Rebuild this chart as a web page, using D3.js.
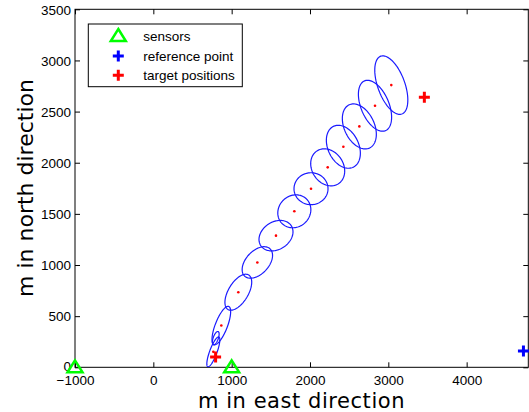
<!DOCTYPE html>
<html>
<head>
<meta charset="utf-8">
<script src="https://cdn.jsdelivr.net/npm/d3@7"></script>
<style>
  html, body { margin: 0; padding: 0; background: #fff; }
  svg { display: block; }
</style>
</head>
<body>
<svg id="chart" width="529" height="412"></svg>
<script>
// ---- data ----
const xTicks = [-1000, 0, 1000, 2000, 3000, 4000];
const yTicks = [0, 500, 1000, 1500, 2000, 2500, 3000, 3500];
const xDomain = [-1000, 4787];
const yDomain = [0, 3500];

const sensorE = [-1000, 1000];
const sensorN = [0, 0];
const refE = [4725];
const refN = [160];
const targetE = [795, 3460];
const targetN = [100, 2640];

const estE = [766, 868, 1085, 1328, 1566, 1800, 2013, 2226, 2426, 2630, 2830, 3038];
const estN = [151, 408, 734, 1025, 1287, 1525, 1746, 1955, 2156, 2355, 2557, 2759];

const ellE    = [797, 766, 868, 1085, 1328, 1566, 1800, 2013, 2226, 2426, 2630, 2830, 3038];
const ellN    = [285, 151, 408, 734, 1025, 1287, 1525, 1746, 1955, 2156, 2355, 2557, 2759];
const ellSigE = [43, 83, 119, 171, 194, 217, 211, 217, 217, 217, 217, 212, 211];
const ellSigN = [65, 146, 188, 176, 154, 149, 161, 156, 181, 210, 220, 249, 286];
const ellRho  = [0.6, 0.8, 0.72, 0.56, 0.45, 0.25, 0.1, 0, -0.2, -0.3, -0.35, -0.45, -0.51];

const legendLabels = ["sensors", "reference point", "target positions"];

// ---- layout ----
const svg = d3.select("#chart");
const L = 75, T = 9.3, R = 528.3, B = 367.3;
const x = d3.scaleLinear().domain(xDomain).range([L, R]);
const y = d3.scaleLinear().domain(yDomain).range([B, T]);
const tickFont = "'Liberation Sans', Arial, Helvetica, sans-serif";

svg.append("defs").append("clipPath").attr("id", "clip")
  .append("rect").attr("x", L).attr("y", T).attr("width", R - L).attr("height", B - T);

// axes (MATLAB style: ticks inward, box)
const fmt = d => d < 0 ? "\u2212" + Math.abs(d) : String(d);
const tickLen = 5;
const gx = svg.append("g").attr("transform", `translate(0,${B})`)
  .call(d3.axisBottom(x).tickValues(xTicks).tickSizeInner(-tickLen).tickSizeOuter(0).tickPadding(8).tickFormat(fmt));
const gxt = svg.append("g").attr("transform", `translate(0,${T})`)
  .call(d3.axisTop(x).tickValues(xTicks).tickSizeInner(-tickLen).tickSizeOuter(0).tickFormat(""));
const gy = svg.append("g").attr("transform", `translate(${L},0)`)
  .call(d3.axisLeft(y).tickValues(yTicks).tickSizeInner(-tickLen).tickSizeOuter(0).tickPadding(8).tickFormat(fmt));
const gyr = svg.append("g").attr("transform", `translate(${R},0)`)
  .call(d3.axisRight(y).tickValues(yTicks).tickSizeInner(-tickLen).tickSizeOuter(0).tickFormat(""));
[gx, gxt, gy, gyr].forEach(g => {
  g.select(".domain").remove();
  g.selectAll(".tick line").attr("stroke", "#000").attr("stroke-width", 1);
  g.selectAll("text").attr("fill", "#000").style("font-family", tickFont).style("font-size", "13.5px");
});
gx.selectAll("text").attr("dy", "0.71em").attr("y", 8.3);
gy.selectAll("text").attr("x", -4).attr("dy", "0.35em");
gy.selectAll(".tick").filter(d => d === 0).select("text").attr("y", -2);

svg.append("rect").attr("x", L).attr("y", T).attr("width", R - L).attr("height", B - T)
  .attr("fill", "none").attr("stroke", "#000").attr("stroke-width", 1);

// axis titles
const titleFont = "'DejaVu Sans', sans-serif";
svg.append("text").attr("x", 301.5).attr("y", 407.5)
  .attr("text-anchor", "middle").style("font-family", titleFont).style("font-size", "21px")
  .style("letter-spacing", "0.55px")
  .attr("fill", "#000").text("m in east direction");
svg.append("text").attr("transform", "translate(33,188) rotate(-90)")
  .attr("text-anchor", "middle").style("font-family", titleFont).style("font-size", "22px")
  .attr("fill", "#000").text("m in north direction");

// ellipses
const plot = svg.append("g").attr("clip-path", "url(#clip)");
const line = d3.line().x(p => x(p[0])).y(p => y(p[1])).curve(d3.curveLinearClosed);
const steps = d3.range(0, 120).map(i => i / 120 * 2 * Math.PI);
ellE.forEach((cx, i) => {
  const sE = ellSigE[i], sN = ellSigN[i], r = ellRho[i];
  const pts = steps.map(t => [cx + sE * Math.cos(t),
    ellN[i] + sN * (r * Math.cos(t) + Math.sqrt(1 - r * r) * Math.sin(t))]);
  plot.append("path").attr("d", line(pts)).attr("fill", "none")
    .attr("stroke", "#1a1aff").attr("stroke-width", 1.2);
});

// estimate dots
estE.forEach((e, i) => {
  plot.append("circle").attr("cx", x(e)).attr("cy", y(estN[i])).attr("r", 1.3).attr("fill", "#ff0000");
});

// marker helpers
function plus(g, cx, cy, color, size) {
  g.append("path").attr("d", `M${cx - size},${cy}H${cx + size}M${cx},${cy - size}V${cy + size}`)
    .attr("stroke", color).attr("stroke-width", 3).attr("fill", "none");
}
function tri(g, cx, cy) {
  g.append("path").attr("d", `M${cx},${cy - 7}L${cx + 7.5},${cy + 5}L${cx - 7.5},${cy + 5}Z`)
    .attr("stroke", "#00ff00").attr("stroke-width", 2.5).attr("fill", "none").attr("stroke-linejoin", "miter");
}

const marks = svg.append("g");
targetE.forEach((e, i) => plus(marks, x(e), y(targetN[i]), "#ff0000", 5.5));
refE.forEach((e, i) => plus(marks, x(e), y(refN[i]), "#0000ff", 5.5));
sensorE.forEach((e, i) => tri(marks, x(e), y(sensorN[i])));

// legend
const lg = svg.append("g");
lg.append("rect").attr("x", 88.3).attr("y", 24).attr("width", 154).attr("height", 62.7)
  .attr("fill", "#fff").attr("stroke", "#000").attr("stroke-width", 1);
const ly = [36, 56, 75.3];
tri(lg, 118.3, ly[0]);
plus(lg, 118.3, ly[1], "#0000ff", 5.5);
plus(lg, 118.3, ly[2], "#ff0000", 5.5);
legendLabels.forEach((t, i) => {
  lg.append("text").attr("x", 143.3).attr("y", ly[i]).attr("dy", "0.35em")
    .style("font-family", tickFont).style("font-size", "13.5px").attr("fill", "#000").text(t);
});
</script>
</body>
</html>
